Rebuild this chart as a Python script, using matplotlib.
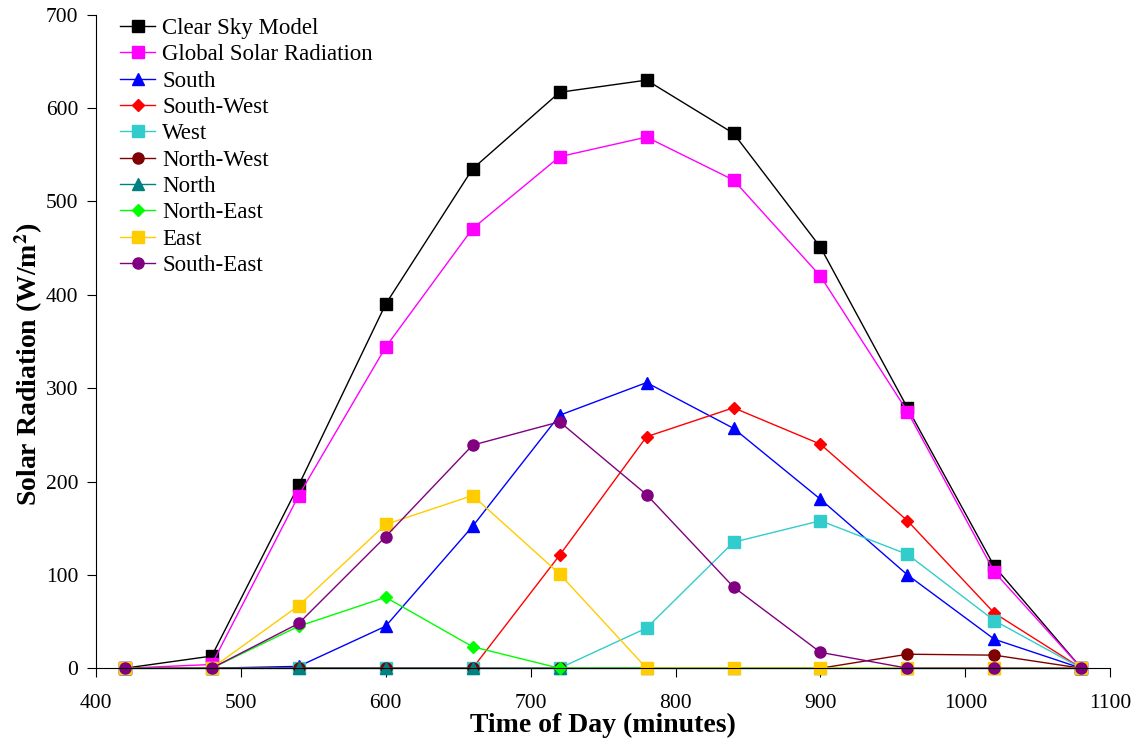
import numpy as np
import matplotlib.pyplot as plt

plt.rcParams['font.family'] = ['Liberation Serif', 'DejaVu Serif']
plt.rcParams['mathtext.fontset'] = 'stix'

# time of day (minutes)
minutes = [420, 480, 540, 600, 660, 720, 780, 840, 900, 960, 1020, 1080]

clear_sky  = [0, 13, 196, 390, 535, 617, 630, 573, 451, 279, 109, 0]
global_rad = [0, 4, 185, 344, 471, 548, 569, 523, 420, 275, 103, 0]
south      = [0, 0, 2, 45, 152, 271, 306, 257, 181, 100, 31, 0]
south_west = [0, 0, 0, 0, 0, 121, 248, 279, 240, 158, 59, 0]
west       = [0, 0, 0, 0, 0, 0, 43, 135, 158, 122, 51, 0]
north_west = [0, 0, 0, 0, 0, 0, 0, 0, 0, 15, 14, 0]
north      = [0, 0, 0, 0, 0, 0, 0, 0, 0, 0, 0, 0]
north_east = [0, 0, 45, 76, 23, 0, 0, 0, 0, 0, 0, 0]
east       = [0, 0, 67, 154, 185, 101, 0, 0, 0, 0, 0, 0]
south_east = [0, 0, 48, 141, 239, 264, 186, 87, 17, 0, 0, 0]

series = [
    ('Clear Sky Model', clear_sky, 'black', 's'),
    ('Global Solar Radiation', global_rad, '#FF00FF', 's'),
    ('South', south, '#0000FF', '^'),
    ('South-West', south_west, '#FF0000', 'D'),
    ('West', west, '#33CCCC', 's'),
    ('North-West', north_west, '#800000', 'o'),
    ('North', north, '#008080', '^'),
    ('North-East', north_east, '#00FF00', 'D'),
    ('East', east, '#FFCC00', 's'),
    ('South-East', south_east, '#800080', 'o'),
]
marker_size = {'s': 8.5, '^': 8.5, 'o': 8, 'D': 6.5}

fig = plt.figure(figsize=(11.4, 7.4), dpi=100)
ax = fig.add_axes([0.084, 0.097, 0.89, 0.883])

for name, vals, col, mk in series:
    ax.plot(minutes, vals, color=col, marker=mk, ms=marker_size[mk], lw=1.0,
            label=name, clip_on=False)

ax.set_xlim(400, 1100)
ax.set_ylim(0, 700)
ax.set_xticks(np.arange(400, 1101, 100))
ax.set_yticks(np.arange(0, 701, 100))
ax.spines['top'].set_visible(False)
ax.spines['right'].set_visible(False)
ax.tick_params(direction='out', length=6.5, labelsize=15.5, pad=6)
ax.tick_params(axis='x', pad=12)

ax.set_xlabel('Time of Day (minutes)', fontsize=20, fontweight='bold', labelpad=0)
ax.set_ylabel('Solar Radiation (W/m$^\\mathbf{2}$)', fontsize=20, fontweight='bold')
ax.yaxis.set_label_coords(-0.05, 0.466)

ax.legend(loc='upper left', frameon=False, fontsize=16.5, handlelength=1.55,
          handletextpad=0.3, labelspacing=0.23, borderpad=0, borderaxespad=0,
          bbox_to_anchor=(0.0237, 0.995))

fig.savefig('out.png', dpi=100)
